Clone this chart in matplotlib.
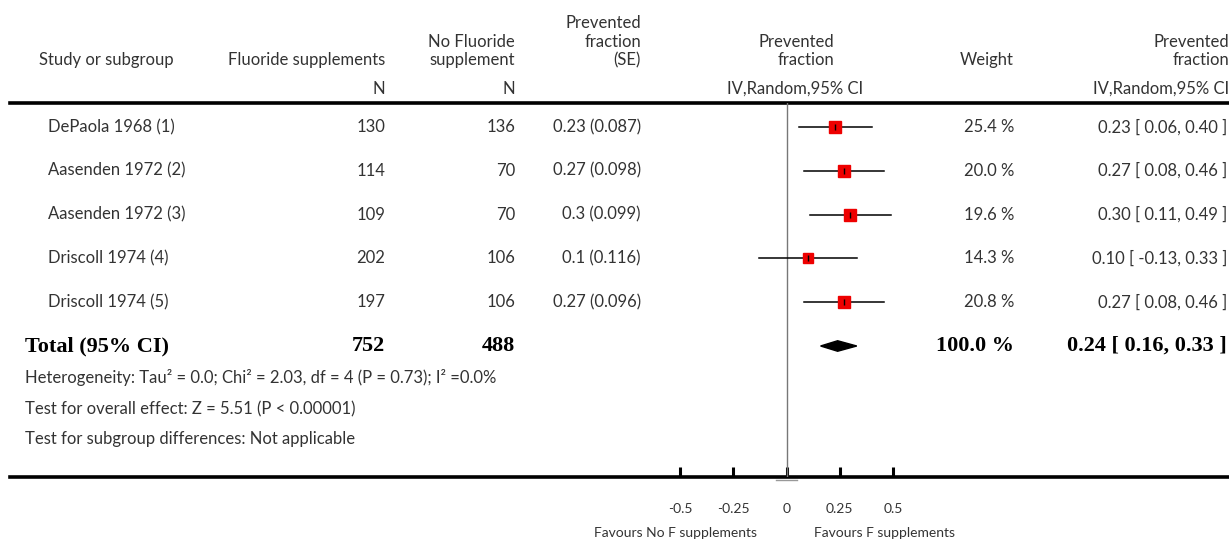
import matplotlib.pyplot as plt
from matplotlib.patches import Polygon
from matplotlib.lines import Line2D

# Fluoride supplements vs no supplement: prevented fraction, random effects
studies = ["DePaola 1968 (1)", "Aasenden 1972 (2)", "Aasenden 1972 (3)",
           "Driscoll 1974 (4)", "Driscoll 1974 (5)"]
n_fluoride = [130, 114, 109, 202, 197]
n_control = [136, 70, 70, 106, 106]
pf = [0.23, 0.27, 0.3, 0.1, 0.27]
se = [0.087, 0.098, 0.099, 0.116, 0.096]
ci_low = [0.06, 0.08, 0.11, -0.13, 0.08]
ci_high = [0.40, 0.46, 0.49, 0.33, 0.46]
weights = [25.4, 20.0, 19.6, 14.3, 20.8]

total_fluoride = 752
total_control = 488
pooled = 0.24
pooled_low = 0.16
pooled_high = 0.33

x_ticks = [-0.5, -0.25, 0, 0.25, 0.5]
x_ticklabels = ["-0.5", "-0.25", "0", "0.25", "0.5"]

footer = ["Heterogeneity: Tau² = 0.0; Chi² = 2.03, df = 4 (P = 0.73); I² =0.0%",
          "Test for overall effect: Z = 5.51 (P < 0.00001)",
          "Test for subgroup differences: Not applicable"]

W, H = 1229, 542
SANS = ["Lato", "DejaVu Sans"]
SERIF = ["Liberation Serif", "DejaVu Serif"]
TXT = "#333333"
FS = 12

fig = plt.figure(figsize=(W / 100, H / 100), dpi=100)

# table layer in pixel coordinates
tab = fig.add_axes([0, 0, 1, 1])
tab.set_xlim(0, W)
tab.set_ylim(H, 0)
tab.axis("off")


def txt(x, y, s, ha="left", **kw):
    kw.setdefault("fontsize", FS)
    kw.setdefault("family", SANS)
    kw.setdefault("color", TXT)
    tab.text(x, y, s, ha=ha, va="center", **kw)


# column headers
txt(39, 60, "Study or subgroup")
txt(385, 60, "Fluoride supplements", ha="right")
txt(385, 89, "N", ha="right")
txt(515, 42, "No Fluoride", ha="right")
txt(515, 60, "supplement", ha="right")
txt(515, 89, "N", ha="right")
txt(641, 23, "Prevented", ha="right")
txt(641, 42, "fraction", ha="right")
txt(641, 60, "(SE)", ha="right")
txt(834, 42, "Prevented", ha="right")
txt(834, 60, "fraction", ha="right")
txt(795, 89, "IV,Random,95% CI", ha="center")
txt(1014, 60, "Weight", ha="right")
txt(1229, 42, "Prevented", ha="right")
txt(1229, 60, "fraction", ha="right")
txt(1229, 89, "IV,Random,95% CI", ha="right")

# rules across the table
tab.add_line(Line2D([10, W], [103, 103], color="black", lw=2.6))
tab.add_line(Line2D([10, W], [477, 477], color="black", lw=2.6))
tab.add_line(Line2D([776, 797], [479.5, 479.5], color="#999999", lw=1))

row_y0, row_dy = 127, 43.8
for i, name in enumerate(studies):
    y = row_y0 + i * row_dy
    txt(48, y, name)
    txt(385, y, str(n_fluoride[i]), ha="right")
    txt(515, y, str(n_control[i]), ha="right")
    txt(641, y, f"{pf[i]:g} ({se[i]:g})", ha="right")
    txt(1014, y, f"{weights[i]:.1f} %", ha="right")
    txt(1227, y, f"{pf[i]:.2f} [ {ci_low[i]:.2f}, {ci_high[i]:.2f} ]", ha="right")

y_tot = row_y0 + 5 * row_dy
bold = dict(family=SERIF, fontweight="bold", fontsize=16, color="black")
txt(25, y_tot, "Total (95% CI)", **bold)
txt(385, y_tot, str(total_fluoride), ha="right", **bold)
txt(515, y_tot, str(total_control), ha="right", **bold)
txt(1014, y_tot, "100.0 %", ha="right", **bold)
txt(1227, y_tot, f"{pooled:.2f} [ {pooled_low:.2f}, {pooled_high:.2f} ]",
    ha="right", **bold)

for y, line in zip([378, 409, 439], footer):
    txt(25, y, line)

# forest plot axes: x in prevented fraction, y in rows
x0, x1 = 680, 893
y_top, y_bot = 103, 477
ax = fig.add_axes([x0 / W, 1 - y_bot / H, (x1 - x0) / W, (y_bot - y_top) / H])
ax.patch.set_alpha(0)
ax.set_xlim(-0.5, 0.5)
ax.set_ylim((y_bot - row_y0) / row_dy, (y_top - row_y0) / row_dy)
for s in ax.spines.values():
    s.set_visible(False)
ax.set_yticks([])
ax.set_xticks(x_ticks)
ax.set_xticklabels(x_ticklabels, fontsize=10, family=SANS, color=TXT)
ax.tick_params(axis="x", direction="in", length=7, width=2.2, pad=19, color="black")

ax.axvline(0, color="#777777", lw=1)

for i in range(len(studies)):
    ax.plot([ci_low[i], ci_high[i]], [i, i], color="black", lw=1.1,
            clip_on=False, zorder=2)
    ax.plot(pf[i], i, marker="s", ms=1.8 * weights[i] ** 0.5,
            color="#ee0000", mec="#ee0000", clip_on=False, zorder=3)
    ax.plot(pf[i], i, marker="|", ms=5, mew=1, color="black",
            clip_on=False, zorder=4)

dh = 0.12
ax.add_patch(Polygon([[pooled_low, 5], [pooled, 5 - dh], [pooled_high, 5],
                      [pooled, 5 + dh]], closed=True, color="black", zorder=3))

txt(676, 533, "Favours No F supplements", ha="center", fontsize=10)
txt(884, 533, "Favours F supplements", ha="center", fontsize=10)

fig.savefig("out.png", dpi=100)
